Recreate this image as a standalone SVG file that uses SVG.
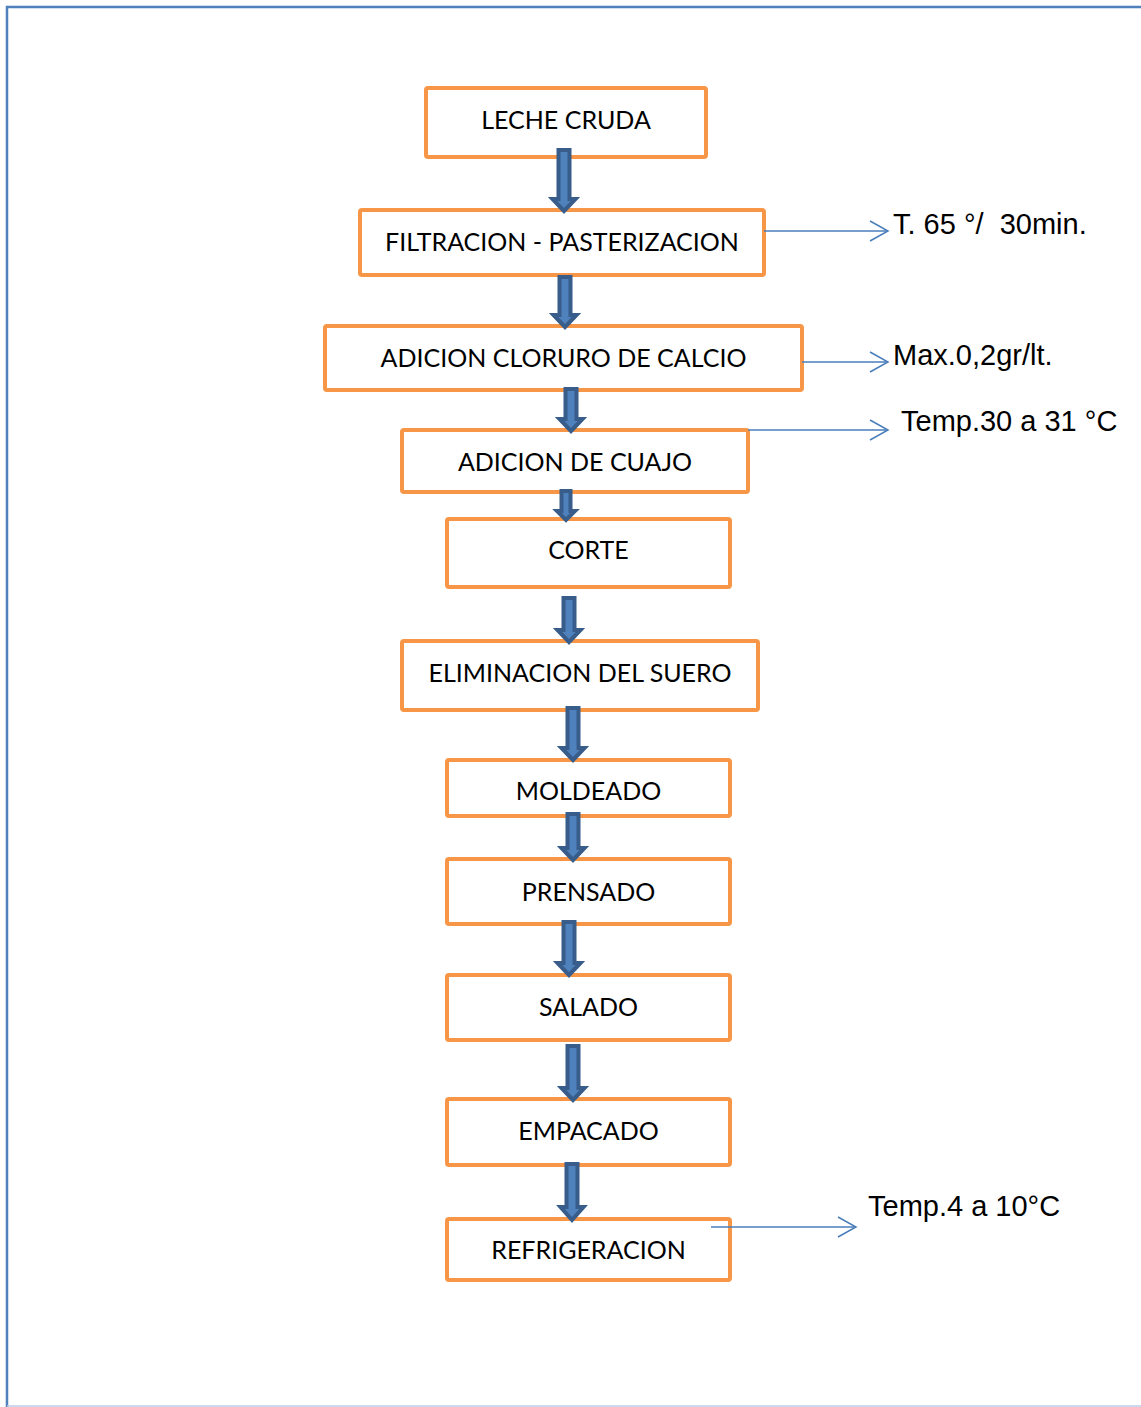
<svg xmlns="http://www.w3.org/2000/svg" width="1141" height="1407" viewBox="0 0 1141 1407">
<style>
.box{fill:#fff;stroke:#F79646;stroke-width:4}
.lbl{font-family:Lato,"Liberation Sans",sans-serif;font-size:25px;fill:#000;text-anchor:middle}
.note{font-family:"Liberation Sans",Arial,sans-serif;font-size:29px;fill:#000;white-space:pre}
.blk{fill:#4F81BD;stroke:#385D8A;stroke-width:4;stroke-linejoin:miter}
.thin{fill:none;stroke:#4A7EBB;stroke-width:1.5}
.frame{fill:none;stroke:#4F81BD;stroke-width:2.5}
</style>
<rect width="1141" height="1407" fill="#fff"/>
<g id="frame">
<polyline class="frame" points="7,1407 7,7 1141,7"/>
<line x1="7" y1="1406" x2="1141" y2="1406" stroke="#B9CDE5" stroke-width="1.5"/>
</g>
<g id="n1"><rect class="box" x="426" y="88" width="280" height="69" rx="2"/><text class="lbl" x="566" y="129">LECHE CRUDA</text></g>
<g id="n2"><rect class="box" x="360" y="210" width="404" height="65" rx="2"/><text class="lbl" x="562" y="251">FILTRACION - PASTERIZACION</text></g>
<g id="n3"><rect class="box" x="325" y="326" width="477" height="64" rx="2"/><text class="lbl" x="563.5" y="367">ADICION CLORURO DE CALCIO</text></g>
<g id="n4"><rect class="box" x="402" y="430" width="346" height="62" rx="2"/><text class="lbl" x="575" y="471">ADICION DE CUAJO</text></g>
<g id="n5"><rect class="box" x="447" y="519" width="283" height="68" rx="2"/><text class="lbl" x="588.5" y="559">CORTE</text></g>
<g id="n6"><rect class="box" x="402" y="641" width="356" height="69" rx="2"/><text class="lbl" x="580" y="682">ELIMINACION DEL SUERO</text></g>
<g id="n7"><rect class="box" x="447" y="760" width="283" height="56" rx="2"/><text class="lbl" x="588.5" y="800">MOLDEADO</text></g>
<g id="n8"><rect class="box" x="447" y="859" width="283" height="65" rx="2"/><text class="lbl" x="588.5" y="901">PRENSADO</text></g>
<g id="n9"><rect class="box" x="447" y="975" width="283" height="65" rx="2"/><text class="lbl" x="588.5" y="1016">SALADO</text></g>
<g id="n10"><rect class="box" x="447" y="1099" width="283" height="66" rx="2"/><text class="lbl" x="588.5" y="1140">EMPACADO</text></g>
<g id="n11"><rect class="box" x="447" y="1219" width="283" height="61" rx="2"/><text class="lbl" x="588.5" y="1259">REFRIGERACION</text></g>
<g id="notes">
<text class="note" x="893" y="234">T. 65 °/  30min.</text>
<text class="note" x="893" y="365">Max.0,2gr/lt.</text>
<text class="note" x="901" y="431">Temp.30 a 31 °C</text>
<text class="note" x="868" y="1216">Temp.4 a 10°C</text>
</g>
<g id="connectors">
<polygon class="blk" points="558.5,150 569.5,150 569.5,199 575.5,199 564,211 552.5,199 558.5,199"/>
<polygon class="blk" points="559.5,277 570.5,277 570.5,315 576.5,315 565,327 553.5,315 559.5,315"/>
<polygon class="blk" points="565.5,389 576.5,389 576.5,419 582.5,419 571,431 559.5,419 565.5,419"/>
<polygon class="blk" points="561.5,491 570.5,491 570.5,511 575,511 566,520 557,511 561.5,511"/>
<polygon class="blk" points="563.5,598 574.5,598 574.5,630 580.5,630 569,642 557.5,630 563.5,630"/>
<polygon class="blk" points="567.5,708 578.5,708 578.5,748 584.5,748 573,760 561.5,748 567.5,748"/>
<polygon class="blk" points="567.5,814 578.5,814 578.5,848 584.5,848 573,860 561.5,848 567.5,848"/>
<polygon class="blk" points="563.5,922 574.5,922 574.5,963 580.5,963 569,975 557.5,963 563.5,963"/>
<polygon class="blk" points="567.5,1046 578.5,1046 578.5,1088 584.5,1088 573,1100 561.5,1088 567.5,1088"/>
<polygon class="blk" points="566.5,1164 577.5,1164 577.5,1207 583.5,1207 572,1220 560.5,1207 566.5,1207"/>
<line class="thin" x1="764" y1="231" x2="888" y2="231"/><polyline class="thin" points="870,221 888,231 870,241"/>
<line class="thin" x1="802" y1="362" x2="888" y2="362"/><polyline class="thin" points="870,352 888,362 870,372"/>
<line class="thin" x1="748" y1="430" x2="888" y2="430"/><polyline class="thin" points="870,420 888,430 870,440"/>
<line class="thin" x1="711" y1="1227" x2="856" y2="1227"/><polyline class="thin" points="838,1217 856,1227 838,1237"/>
</g>
</svg>
